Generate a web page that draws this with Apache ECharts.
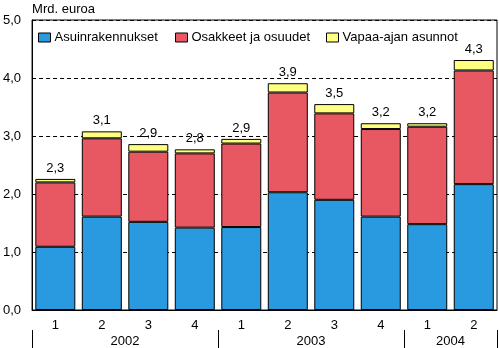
<!DOCTYPE html>
<html><head><meta charset="utf-8">
<script src="https://cdn.jsdelivr.net/npm/echarts@6/dist/echarts.min.js"></script>
<style>html,body{margin:0;padding:0;background:#fff}#c{width:499px;height:348px}</style>
</head><body><div id="c"></div>
<script>
var quarters = ['1','2','3','4','1','2','3','4','1','2'];
var years = ['2002','2003','2004'];
var yearCenters = [2, 6, 9];
var yearBounds = [0, 4, 8, 10];
var asuin = [1.09,1.61,1.52,1.42,1.43,2.03,1.90,1.61,1.48,2.17];
var osakkeet = [1.11,1.35,1.21,1.28,1.44,1.72,1.49,1.51,1.68,1.96];
var vapaa = [0.06,0.12,0.13,0.07,0.08,0.16,0.16,0.10,0.06,0.18];
var totals = ['2,3','3,1','2,9','2,8','2,9','3,9','3,5','3,2','3,2','4,3'];
var names = ['Asuinrakennukset','Osakkeet ja osuudet','Vapaa-ajan asunnot'];
var colors = ['#2a9ae0','#e85862','#ffff80'];

var font = 'Liberation Sans, Arial, sans-serif';
var fs = 13;
var chart = echarts.init(document.getElementById('c'));
function mk(name, data, color, isTop){
  var s = {name:name,type:'bar',stack:'a',data:data,barWidth:40,
    itemStyle:{color:color,borderColor:'#000',borderWidth:1},
    emphasis:{disabled:true}, animation:false};
  if(isTop){
    s.label={show:true,position:'top',distance:4,color:'#000',fontSize:fs,fontFamily:font,
      formatter:function(p){return totals[p.dataIndex];}};
  }
  return s;
}
var legendBase = {top:26,itemWidth:12,itemHeight:9,itemGap:10,icon:'rect',
  textStyle:{color:'#000',fontSize:fs,fontFamily:font,padding:[0,0,0,-1]},
  itemStyle:{borderColor:'#000',borderWidth:1}};
chart.setOption({
  animation:false,
  textStyle:{fontFamily:font},
  grid:{left:31,right:2,top:20,bottom:38,show:true,borderColor:'#000',borderWidth:1,backgroundColor:'transparent'},
  legend:[
    Object.assign({},legendBase,{left:33,data:[names[0]]}),
    Object.assign({},legendBase,{left:170,data:[names[1]]}),
    Object.assign({},legendBase,{left:321,data:[names[2]]})
  ],
  xAxis:[
    {type:'category',data:quarters,position:'bottom',
      axisLine:{lineStyle:{color:'#000'}},axisTick:{show:false},
      axisLabel:{color:'#000',fontSize:fs,fontFamily:font,margin:9}},
    {type:'value',min:0,max:10,position:'bottom',offset:20,
      axisLine:{show:false},splitLine:{show:false},
      axisTick:{show:true,customValues:yearBounds,length:18,lineStyle:{color:'#000'}},
      axisLabel:{color:'#000',fontSize:fs,fontFamily:font,margin:5,customValues:yearCenters,
        formatter:function(v){return years[yearCenters.indexOf(v)];}}}
  ],
  yAxis:{type:'value',min:0,max:5,interval:1,
    name:'Mrd. euroa',nameGap:4,nameTextStyle:{color:'#000',fontSize:fs,fontFamily:font,align:'left'},
    axisLine:{show:true,lineStyle:{color:'#000'}},axisTick:{show:false},
    axisLabel:{color:'#000',fontSize:fs,fontFamily:font,margin:11,
      formatter:function(v){return v.toFixed(1).replace('.',',');}},
    splitLine:{show:true,lineStyle:{color:'#000',type:[4,3],width:1}}},
  series:[mk(names[0],asuin,colors[0]),mk(names[1],osakkeet,colors[1]),mk(names[2],vapaa,colors[2],true)]
});
</script></body></html>
